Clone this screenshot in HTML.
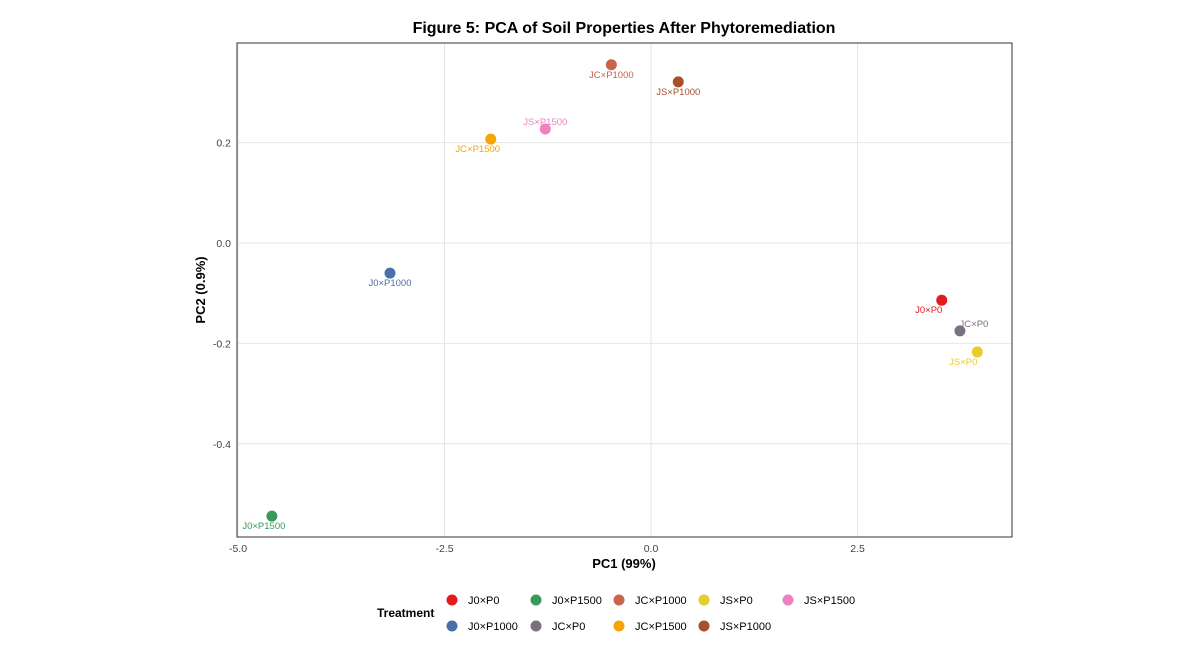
<!DOCTYPE html>
<html><head><meta charset="utf-8"><style>
body{margin:0;background:#fff;font-family:"Liberation Sans",sans-serif}
svg text{font-family:"Liberation Sans",sans-serif}
</style></head><body>
<svg id="c" width="1201" height="651">
<text x="624" y="33" text-anchor="middle" font-size="16" font-weight="bold">Figure 5: PCA of Soil Properties After Phytoremediation</text>
<g id="grid"></g><g id="pts"></g>
<rect x="237" y="43" width="775" height="494" fill="none" stroke="#333" stroke-width="1"/>
<text x="624" y="568" text-anchor="middle" font-size="13" font-weight="bold">PC1 (99%)</text>
<text transform="translate(205,290) rotate(-90)" text-anchor="middle" font-size="13" font-weight="bold">PC2 (0.9%)</text>
<text x="377" y="617" font-size="12" font-weight="bold">Treatment</text>
<g id="leg"></g>
</svg>
<script>
const names=["J0×P0","JC×P0","JS×P0","J0×P1000","J0×P1500","JC×P1000","JS×P1000","JC×P1500","JS×P1500"];
const pc1=[3.52,3.74,3.95,-3.16,-4.59,-0.48,0.33,-1.94,-1.28];
const pc2=[-0.114,-0.175,-0.217,-0.060,-0.544,0.355,0.321,0.207,0.227];
const colors=["#e41a1c","#7a7080","#e6cc2c","#4a70a8","#3a9a5b","#c8654a","#a8502a","#f5a500","#f080c0"];
const xTicks=[-5,-2.5,0,2.5];
const yTicks=[-0.4,-0.2,0,0.2];
const legendOrder=["J0×P0","J0×P1500","JC×P1000","JS×P0","JS×P1500","J0×P1000","JC×P0","JC×P1500","JS×P1000"];
const X=v=>651+v*82.6, Y=v=>243-v*502;
const NS="http://www.w3.org/2000/svg";
const mk=(p,t,a)=>{const e=document.createElementNS(NS,t);for(const k in a)e.setAttribute(k,a[k]);p.appendChild(e);return e;};
const g=document.getElementById('grid'),c=document.getElementById('c');
xTicks.forEach(t=>{const l=mk(g,'line',{x1:X(t),x2:X(t),y1:43,y2:537,stroke:'#e6e6e6'});


const tx=mk(c,'text',{x:X(t),y:552,'text-anchor':'middle','font-size':10.5,fill:'#444'});tx.textContent=t.toFixed(1);

});
yTicks.forEach(t=>{const l=mk(g,'line',{x1:237,x2:1012,y1:Y(t),y2:Y(t),stroke:'#e6e6e6'});


const tx=mk(c,'text',{x:231,y:Y(t)+4,'text-anchor':'end','font-size':10.5,fill:'#444'});tx.textContent=t.toFixed(1);

});
const p=document.getElementById('pts');
names.forEach((n,i)=>{const cx=X(pc1[i]),cy=Y(pc2[i]);
const ci=mk(p,'circle',{cx:cx,cy:cy,r:5.5,fill:colors[i]});


let lx=cx,ly=cy+13;if(n==="JC×P0"){lx=cx+14;ly=cy-4;}if(n==="JS×P0"){lx=cx-14;}
if(n==="JS×P1500"){ly=cy-4;}if(n==="J0×P1500"){lx=cx-8;}if(n==="JC×P1500"){lx=cx-13;}if(n==="J0×P0"){lx=cx-13;}
const t=mk(p,'text',{x:lx,y:ly,'text-anchor':'middle','font-size':9.5,fill:colors[i]});t.textContent=n;

});
const lg=document.getElementById('leg');
const lxs=[452,536,619,704,788];
legendOrder.forEach((n,k)=>{const i=names.indexOf(n);const col=k<5?k:k-5,row=k<5?0:1;
const x=lxs[col],y=row?626:600;
const ci=mk(lg,'circle',{cx:x,cy:y,r:5.5,fill:colors[i]});


const t=mk(lg,'text',{x:x+16,y:y+4,'font-size':11}); t.textContent=n;

});
</script>
</body></html>
